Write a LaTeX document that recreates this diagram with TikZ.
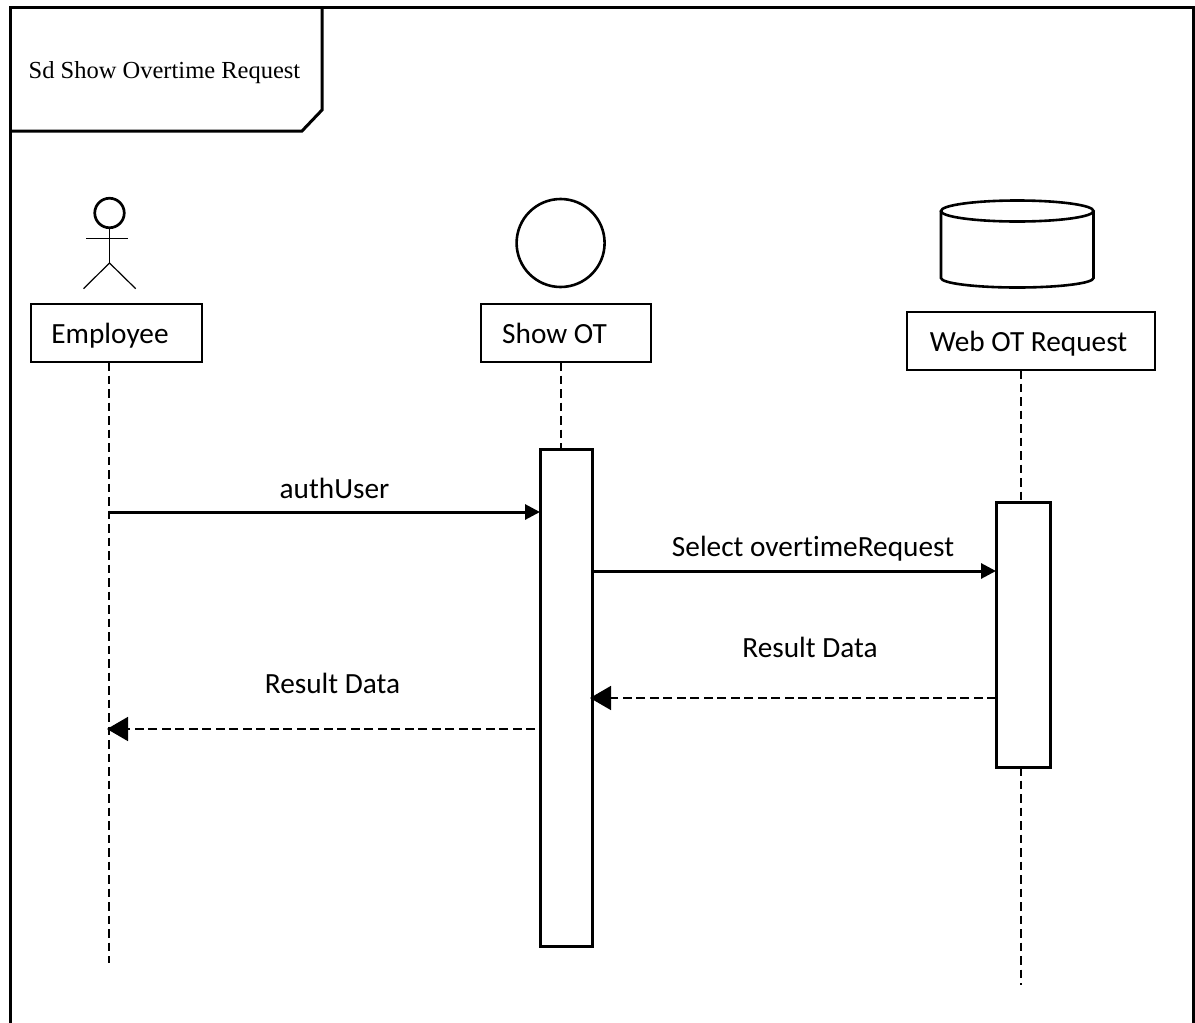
\documentclass[tikz,border=0pt]{standalone}
\usepackage{fontspec}
\setmainfont{Carlito}[Ligatures=NoCommon]
\newfontfamily\serifx{Liberation Serif}
\usetikzlibrary{arrows.meta}
\tikzset{
  thick frame/.style={line width=3pt,draw=black},
  namebox/.style={draw=black,line width=1.5pt,fill=white,minimum height=58pt,inner sep=0pt,outer sep=0pt,anchor=north west},
  actbox/.style={draw=black,line width=3pt,fill=white,inner sep=0pt,outer sep=0pt,anchor=north west},
  lifeline/.style={draw=black,line width=1.5pt,dash pattern=on 8.5pt off 5pt},
  msg/.style={draw=black,line width=3pt,-{Triangle[length=15pt,width=15pt]}},
  ret/.style={draw=black,line width=1.6pt,dash pattern=on 9pt off 4.5pt,-{Triangle[length=21pt,width=24pt]}},
  lbl/.style={font=\fontsize{29.3}{34}\selectfont,inner sep=0pt,anchor=base},
  figure line/.style={line width=1.2pt,draw=black},
  shape line/.style={line width=2.6pt,draw=black}
}
\begin{document}
\begin{tikzpicture}[x=1pt,y=-1pt]
\useasboundingbox (0,0) rectangle (1195,1023);
% frame
\draw[thick frame] (10,1030) -- (10,7) -- (1193,7) -- (1193,1030);
\draw[thick frame,line join=miter] (322,7) -- (322,110) -- (302,131) -- (10,131);
\node[font=\serifx\fontsize{24.5}{29}\selectfont,inner sep=0pt,anchor=base] (title) at (164.5,78) {Sd Show Overtime Request};
% name boxes
\node[namebox,minimum width=171pt] (emp) at (31,304) {};
\node[lbl] (empt) at (110,343) {Employee};
\node[namebox,minimum width=170pt] (show) at (481,304) {};
\node[lbl] (showt) at (554.5,343) {Show OT};
\node[namebox,minimum width=248pt] (web) at (907,312) {};
\node[lbl] (webt) at (1028.5,351) {Web OT Request};
% lifeline ends
\coordinate (e1) at (109,362); \coordinate (e2) at (109,963);
\coordinate (s1) at (561,362);
\coordinate (w1) at (1021,370); \coordinate (w2) at (1021,985);
% activations
\node[actbox,minimum width=52pt,minimum height=497pt] (acts) at (540,449) {};
\node[actbox,minimum width=54pt,minimum height=265pt] (actw) at (996,502) {};
\draw[lifeline] (e1) -- (e2);
\draw[lifeline] (s1) -- (acts.north -| s1);
\draw[lifeline] (w1) -- (actw.north -| w1);
\draw[lifeline] (actw.south -| w1) -- (w2);
% actor
\node[circle,draw=black,line width=2.7pt,minimum size=29.5pt,inner sep=0pt,outer sep=0pt] (head) at (109.5,213) {};
\coordinate (hip) at (109.5,263);
\coordinate (al) at (86,238.7); \coordinate (ar) at (128,238.7);
\coordinate (ll) at (83.5,288.7); \coordinate (lr) at (135.7,288.7);
\draw[figure line] (head.south) -- (hip);
\draw[figure line] (al) -- (ar);
\draw[figure line] (ll) -- (hip) -- (lr);
% boundary circle
\node[circle,draw=black,line width=2.6pt,minimum size=88pt,inner sep=0pt,outer sep=0pt] (ctrl) at (560.6,243) {};
% database
\draw[shape line] (941,211) -- (941,278) arc[start angle=180,end angle=360,x radius=76.25pt,y radius=9.5pt] -- (1093.5,211);
\draw[shape line] (1017.25,211) ellipse[x radius=76.25pt,y radius=10.5pt];
% messages
\coordinate (m1) at (109,512);
\draw[msg] (m1) -- (m1 -| acts.west);
\node[lbl] (l1) at (334.5,498) {authUser};
\coordinate (m2) at (592,571);
\draw[msg] (m2) -- (m2 -| actw.west);
\node[lbl] (l2) at (813,556) {Select overtimeRequest};
\coordinate (m3) at (996,698); \coordinate (m3e) at (590,698);
\draw[ret] (m3) -- (m3e);
\node[lbl] (l3) at (810,657) {Result Data};
\coordinate (m4) at (535,729); \coordinate (m4e) at (107,729);
\draw[ret] (m4) -- (m4e);
\node[lbl] (l4) at (332.5,693) {Result Data};
\end{tikzpicture}
\end{document}
